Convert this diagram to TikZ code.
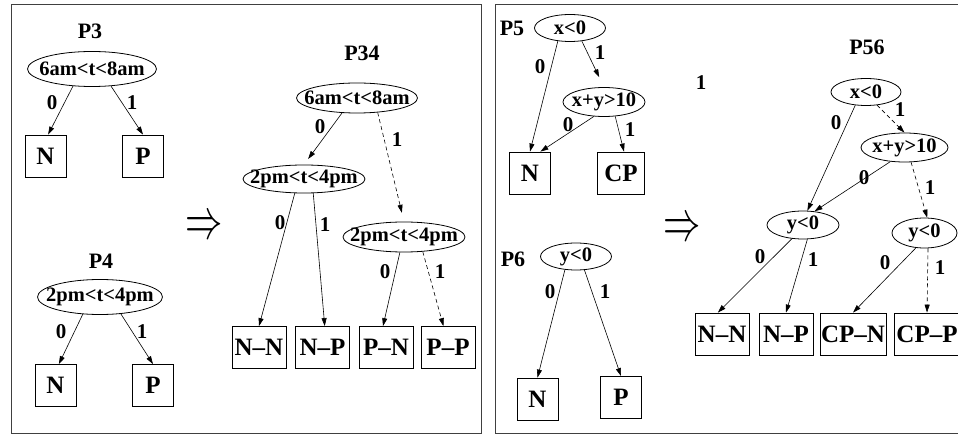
\documentclass[tikz,border=0pt]{standalone}
\usepackage{fontspec}
\setmainfont{Liberation Serif}
\usetikzlibrary{shapes.geometric,arrows.meta}

\begin{document}
\begin{tikzpicture}[x=1pt,y=-1pt,
    test/.style={ellipse,draw,line width=.8pt,inner xsep=-14pt,inner ysep=-2pt,
                 font=\fontsize{20.5}{20.5}\bfseries},
    leaf/.style={rectangle,draw,line width=.8pt,minimum width=41pt,minimum height=42pt,
                 inner sep=1pt,font=\fontsize{25}{25}\bfseries},
    lab/.style={inner sep=0pt,font=\fontsize{21}{21}\bfseries},
    ttl/.style={inner sep=0pt,font=\fontsize{22}{22}\bfseries},
    impl/.style={inner sep=0pt,font=\fontsize{24.88}{24.88}\selectfont},
    edge/.style={line width=.6pt,-{Triangle[length=8pt,width=5pt]}},
    panel/.style={draw=black!75,line width=1pt}]
  \useasboundingbox (0,0) rectangle (958,435);
  % the two panels
  \draw[panel] (11,5) rectangle (481,433);
  \draw[panel] (495,5) rectangle (975,433);

  % left panel: P3, P4 and their product P34
  \node[ttl] (t3) at (90,31) {P3};
  \node[test,minimum width=129pt,minimum height=35pt] (e3) at (92,69) {6am<t<8am};
  \node[leaf] (n3) at (45.5,156) {N};
  \node[leaf] (p3) at (143,156) {P};

  \node[ttl] (t4) at (101,261) {P4};
  \node[test,minimum width=125pt,minimum height=35pt] (e4) at (100,297) {2pm<t<4pm};
  \node[leaf] (n4) at (55.5,385.5) {N};
  \node[leaf] (p4) at (153,385.5) {P};

  \node[impl] (imp1) at (204,228) {\scalebox{1.5}[2.3]{$\Rightarrow$}};

  \node[ttl] (t34) at (362,53) {P34};
  \node[test,minimum width=121pt,minimum height=30pt] (e34) at (357,98) {6am<t<8am};
  \node[test,minimum width=122pt,minimum height=28pt] (e34a) at (304,179) {2pm<t<4pm};
  \node[test,minimum width=122pt,minimum height=30pt] (e34b) at (404,237) {2pm<t<4pm};
  \node[leaf,minimum width=54pt] (nn34) at (259,347.5) {N--N};
  \node[leaf,minimum width=54pt] (np34) at (322.5,347.5) {N--P};
  \node[leaf,minimum width=54pt] (pn34) at (386,347.5) {P--N};
  \node[leaf,minimum width=54pt] (pp34) at (448,347.5) {P--P};

  % right panel: P5, P6 and their product P56
  \node[ttl] (t5) at (512,28) {P5};
  \node[test,minimum width=71pt,minimum height=27pt] (x5) at (570,28) {x<0};
  \node[test,minimum width=82pt,minimum height=29pt] (xy5) at (604,102) {x+y>10};
  \node[leaf] (n5) at (530,173) {N};
  \node[leaf,minimum width=47pt] (cp5) at (621,173) {CP};

  \node[ttl] (t6) at (513,259) {P6};
  \node[test,minimum width=71pt,minimum height=27pt] (y6) at (576,256.5) {y<0};
  \node[leaf] (n6) at (537.5,399) {N};
  \node[leaf] (p6) at (621,397.5) {P};

  \node[impl] (imp2) at (682,230) {\scalebox{1.5}[2.3]{$\Rightarrow$}};
  \node[lab] (stray) at (701,83) {1};

  \node[ttl] (t56) at (867,47) {P56};
  \node[test,minimum width=70pt,minimum height=27pt] (x56) at (866,92) {x<0};
  \node[test,minimum width=87pt,minimum height=29pt] (xy56) at (904.5,147.5) {x+y>10};
  \node[test,minimum width=72pt,minimum height=28pt] (ymid) at (803,225) {y<0};
  \node[test,minimum width=65pt,minimum height=30pt] (yr) at (924.5,233) {y<0};
  \node[leaf,minimum width=54pt] (nn56) at (722,334) {N--N};
  \node[leaf,minimum width=54pt] (np56) at (786,334) {N--P};
  \node[leaf,minimum width=66pt] (cpn56) at (853,334) {CP--N};
  \node[leaf,minimum width=66pt] (cpp56) at (927,334) {CP--P};

  % branches
  \foreach \a/\b/\s in {e3.222/n3.83/0, e3.318/p3.north/0, e34.225/e34a.north/7,
      e34a.237/nn34.north/0, e34a.303/np34.84/0, e34b.255/pn34.98/0,
      e4.225/n4.81/0, e4.321/p4.north/0, x5.227/n5.north/0, x5.312/xy5.north/11,
      xy5.235/n5.64/0, xy5.308/cp5.82/0, x56.231/ymid.73/0, xy56.225/ymid.50/0,
      ymid.231/nn56.101/0, ymid.287/np56.north/0, yr.240/cpn56.north/0,
      y6.230/n6.north/0, y6.302/p6.north/0}
    \draw[edge,shorten >=\s pt] (\a) -- (\b);
  \foreach \a/\b/\s in {e34.325/e34b.north/9, e34b.322/pp34.102/0,
      x56.310/xy56.north/0, xy56.294/yr.80/0, yr.283/cpp56.north/0}
    \draw[edge,dash pattern=on 4pt off 3pt,shorten >=\s pt] (\a) -- (\b);

  % branch labels
  \foreach \x/\y/\t [count=\i] in {52/103/0, 132/103/1, 320/127/0, 397/140/1,
      280/223/0, 325/225/1, 385/272/0, 440/272/1, 61/332/0, 142/332/1,
      540/67/0, 600/53/1, 568/125/0, 630/130/1, 836/123/0, 900/110/1,
      864/178/0, 930/188/1, 760/257/0, 813/260/1, 885/263/0, 940/268/1,
      550/292/0, 605/292/1}
    \node[lab] (lab\i) at (\x,\y) {\t};
\end{tikzpicture}
\end{document}
